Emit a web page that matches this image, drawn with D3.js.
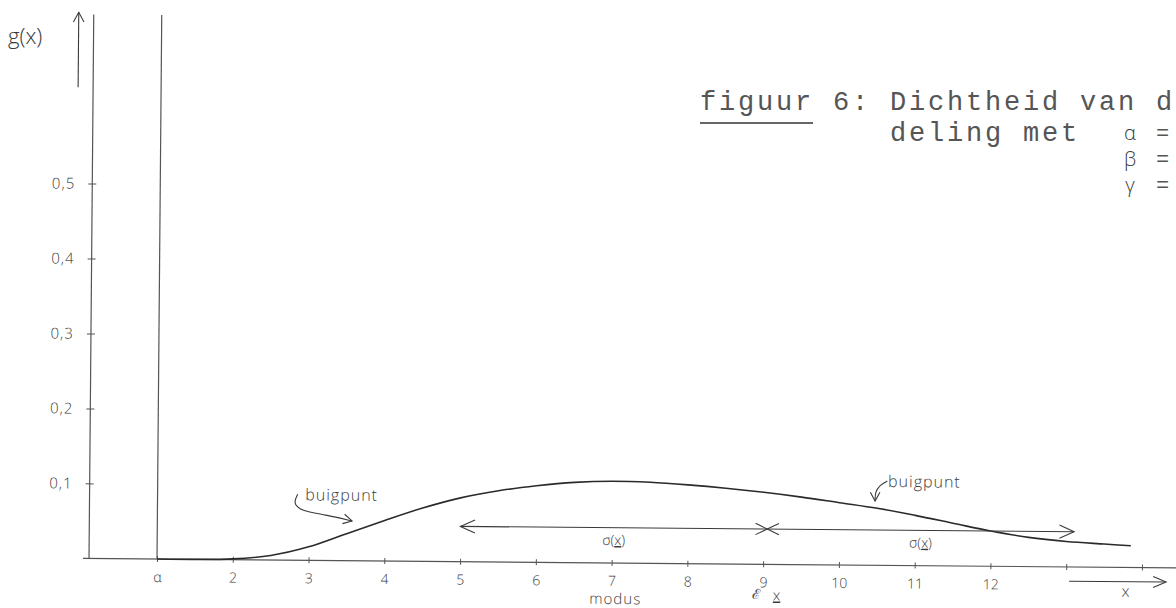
<!DOCTYPE html>
<html>
<head>
<meta charset="utf-8">
<script src="https://cdn.jsdelivr.net/npm/d3@7"></script>
<style>
  body { margin: 0; background: #fff; }
  svg { display: block; }
  .hand { font-family: "Open Sans", "DejaVu Sans", sans-serif; font-weight: 300; fill: #3a3a3a; }
  .typed { font-family: "Liberation Mono", "DejaVu Sans Mono", monospace; fill: #555; }
</style>
</head>
<body>
<div id="chart"></div>
<script>
// axis ticks
var xTicks = [1, 2, 3, 4, 5, 6, 7, 8, 9, 10, 11, 12, 13, 14];
var xTickLabels = ["α", "2", "3", "4", "5", "6", "7", "8", "9", "10", "11", "12", "", ""];
var yTicks = [0.1, 0.2, 0.3, 0.4, 0.5];
var yTickLabels = ["0,1", "0,2", "0,3", "0,4", "0,5"];

// density g(x)
var curveX = [1, 2, 2.5, 3, 3.5, 4, 4.5, 5, 5.5, 6, 6.5, 7, 7.5, 8, 8.5, 9, 9.5, 10, 10.5, 11, 11.5, 12, 12.5, 13, 13.5, 13.85];
var curveG = [0, 0.001, 0.006, 0.018, 0.036, 0.054, 0.071, 0.085, 0.095, 0.102, 0.107, 0.109, 0.108, 0.105, 0.101, 0.096, 0.090, 0.083, 0.076, 0.067, 0.057, 0.047, 0.039, 0.034, 0.031, 0.029];

// annotations
var modusX = 7;
var meanX = 9.05;
var sigmaX = 4.05;
var sigmaLevel = 0.047;
var sigmaLabelLevel = 0.024;
var leftBuig = { textX: 2.95, textY: 0.080, arrow: [[2.85, 0.088], [2.79, 0.076], [2.89, 0.066], [3.22, 0.061], [3.57, 0.053]] };
var rightBuig = { textX: 10.64, textY: 0.1045, arrow: [[10.63, 0.1125], [10.53, 0.107], [10.47, 0.0976], [10.47, 0.0856]] };
var xArrow = [13.04, 14.32];
var xArrowLevel = -0.019;

var svgWidth = 1176;
var svgHeight = 608;
var margin = { top: 15, left: 89, bottom: 49 };
var baseY = svgHeight - margin.bottom;

var svg = d3.select("#chart").append("svg")
    .attr("width", svgWidth)
    .attr("height", svgHeight);

svg.append("rect").attr("width", svgWidth).attr("height", svgHeight).attr("fill", "#fff");

var xScale = d3.scaleLinear().domain([1, 14]).range([157, 1142]);
var yScale = d3.scaleLinear().domain([0, 0.5]).range([baseY, 184]);

// the scanned sheet is a little crooked
var plot = svg.append("g")
    .attr("transform", `rotate(0.5, ${xScale(1)}, ${baseY})`);

var ink = "#3a3a3a";

function arrowHead(g, p0, p1, len, spread) {
    var a = Math.atan2(p1[1] - p0[1], p1[0] - p0[0]);
    var w1 = [p1[0] - len * Math.cos(a - spread), p1[1] - len * Math.sin(a - spread)];
    var w2 = [p1[0] - len * Math.cos(a + spread), p1[1] - len * Math.sin(a + spread)];
    g.append("path")
        .attr("d", `M${w1[0]},${w1[1]}L${p1[0]},${p1[1]}L${w2[0]},${w2[1]}`)
        .attr("fill", "none").attr("stroke", ink).attr("stroke-width", 1.1);
}

// x axis
var xAxis = d3.axisBottom(xScale)
    .tickValues(xTicks)
    .tickFormat((d, i) => xTickLabels[i])
    .tickSize(0)
    .tickPadding(13);

var gx = plot.append("g")
    .attr("transform", `translate(0, ${baseY})`)
    .call(xAxis);
gx.select(".domain").remove();
gx.selectAll(".tick line").attr("y1", -3).attr("y2", 3).attr("stroke", "#555");
gx.selectAll(".tick text").attr("class", "hand").style("font-size", "14px");

plot.append("line")
    .attr("x1", margin.left - 6).attr("x2", svgWidth + 10)
    .attr("y1", baseY).attr("y2", baseY)
    .attr("stroke", "#555").attr("stroke-width", 1.2);

// y axis
var yAxis = d3.axisLeft(yScale)
    .tickValues(yTicks)
    .tickFormat((d, i) => yTickLabels[i])
    .tickSize(0)
    .tickPadding(17);

var gy = plot.append("g")
    .attr("transform", `translate(${margin.left}, 0)`)
    .call(yAxis);
gy.select(".domain").remove();
gy.selectAll(".tick line").attr("x1", -4).attr("x2", 4).attr("stroke", "#555");
gy.selectAll(".tick text").attr("class", "hand").style("font-size", "15px").style("letter-spacing", "1px");

plot.append("line")
    .attr("x1", margin.left).attr("x2", margin.left)
    .attr("y1", margin.top).attr("y2", baseY)
    .attr("stroke", "#555").attr("stroke-width", 1.2);

// the arrow next to g(x)
var ax = margin.left - 15;
plot.append("line")
    .attr("x1", ax).attr("x2", ax).attr("y1", 88).attr("y2", 13)
    .attr("stroke", ink).attr("stroke-width", 1.1);
arrowHead(plot, [ax, 88], [ax, 13], 11, 0.5);

// alpha line
plot.append("line")
    .attr("x1", xScale(1)).attr("x2", xScale(1))
    .attr("y1", margin.top).attr("y2", baseY)
    .attr("stroke", "#555").attr("stroke-width", 1.2);

// density curve
var line = d3.line()
    .x(d => xScale(d[0]))
    .y(d => yScale(d[1]))
    .curve(d3.curveCatmullRom);

plot.append("path")
    .datum(curveX.map((x, i) => [x, curveG[i]]))
    .attr("d", line)
    .attr("fill", "none")
    .attr("stroke", "#2a2a2a")
    .attr("stroke-width", 1.6);

// sigma arrows
var sy = yScale(sigmaLevel);
var sL = xScale(meanX - sigmaX), sM = xScale(meanX), sR = xScale(meanX + sigmaX);
plot.append("line")
    .attr("x1", sL).attr("x2", sR).attr("y1", sy).attr("y2", sy)
    .attr("stroke", ink).attr("stroke-width", 1.1);
arrowHead(plot, [sM, sy], [sL, sy], 16, 0.42);
arrowHead(plot, [sL, sy], [sM, sy], 13, 0.45);
arrowHead(plot, [sR, sy], [sM, sy], 13, 0.45);
arrowHead(plot, [sM, sy], [sR, sy], 16, 0.42);

function sigmaLabel(cx) {
    var t = plot.append("text")
        .attr("class", "hand")
        .attr("x", cx)
        .attr("y", yScale(sigmaLabelLevel))
        .attr("text-anchor", "middle")
        .style("font-size", "14px");
    t.append("tspan").text("σ(");
    t.append("tspan").style("text-decoration", "underline").text("x");
    t.append("tspan").text(")");
}
sigmaLabel((sL + sM) / 2);
sigmaLabel((sM + sR) / 2);

// buigpunt annotations
var annLine = d3.line()
    .x(d => xScale(d[0]))
    .y(d => yScale(d[1]))
    .curve(d3.curveBasis);

[leftBuig, rightBuig].forEach(function (b) {
    plot.append("text")
        .attr("class", "hand")
        .attr("x", xScale(b.textX))
        .attr("y", yScale(b.textY))
        .style("font-size", "16px")
        .style("letter-spacing", "1px")
        .text("buigpunt");
    plot.append("path")
        .attr("d", annLine(b.arrow))
        .attr("fill", "none").attr("stroke", ink).attr("stroke-width", 1.1);
    var n = b.arrow.length;
    var p0 = [xScale(b.arrow[n - 2][0]), yScale(b.arrow[n - 2][1])];
    var p1 = [xScale(b.arrow[n - 1][0]), yScale(b.arrow[n - 1][1])];
    arrowHead(plot, p0, p1, 10, 0.5);
});

// modus and expectation under the axis
plot.append("text")
    .attr("class", "hand")
    .attr("x", xScale(modusX) + 4)
    .attr("y", baseY + 41)
    .attr("text-anchor", "middle")
    .style("font-size", "15px")
    .style("letter-spacing", "1px")
    .text("modus");

plot.append("text")
    .attr("class", "hand")
    .attr("x", xScale(meanX) - 11)
    .attr("y", baseY + 35)
    .attr("text-anchor", "middle")
    .style("font-size", "14px")
    .text("ℰ");
plot.append("text")
    .attr("class", "hand")
    .attr("x", xScale(meanX) + 10)
    .attr("y", baseY + 36)
    .attr("text-anchor", "middle")
    .style("font-size", "15px")
    .style("text-decoration", "underline")
    .text("x");

// x arrow at the bottom right
var xy = yScale(xArrowLevel);
plot.append("line")
    .attr("x1", xScale(xArrow[0])).attr("x2", xScale(xArrow[1]))
    .attr("y1", xy).attr("y2", xy)
    .attr("stroke", ink).attr("stroke-width", 1.1);
arrowHead(plot, [xScale(xArrow[0]), xy], [xScale(xArrow[1]), xy], 14, 0.4);
plot.append("text")
    .attr("class", "hand")
    .attr("x", (xScale(xArrow[0]) + xScale(xArrow[1])) / 2 + 8)
    .attr("y", xy + 15)
    .attr("text-anchor", "middle")
    .style("font-size", "16px")
    .text("x");

// g(x) label
svg.append("text")
    .attr("class", "hand")
    .attr("x", 8)
    .attr("y", 44)
    .style("font-size", "22px")
    .text("g(x)");

// title, typewritten
var title = svg.append("g");
title.append("text")
    .attr("class", "typed")
    .attr("x", 700).attr("y", 110)
    .style("font-size", "27px")
    .style("letter-spacing", "2.8px")
    .text("figuur 6: Dichtheid van d");
title.append("line")
    .attr("x1", 700).attr("x2", 813).attr("y1", 123).attr("y2", 123)
    .attr("stroke", "#333").attr("stroke-width", 1.5);
title.append("text")
    .attr("class", "typed")
    .attr("x", 890).attr("y", 141)
    .style("font-size", "27px")
    .style("letter-spacing", "2.8px")
    .text("deling met");

var params = ["α", "β", "γ"];
var paramY = [140, 166, 192];
params.forEach(function (p, i) {
    title.append("text")
        .attr("class", "hand")
        .attr("x", 1130).attr("y", paramY[i])
        .attr("text-anchor", "middle")
        .style("font-size", "20px")
        .text(p);
    title.append("text")
        .attr("class", "typed")
        .attr("x", 1156).attr("y", paramY[i])
        .style("font-size", "22px")
        .text("=");
});
</script>
</body>
</html>
